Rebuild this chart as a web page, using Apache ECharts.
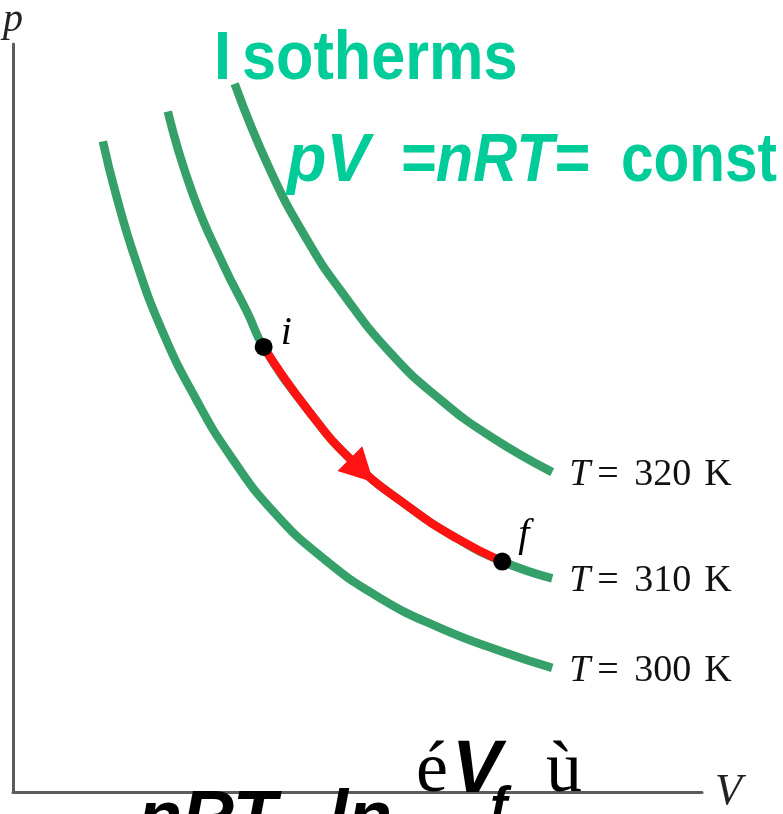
<!DOCTYPE html>
<html>
<head>
<meta charset="utf-8">
<script src="https://cdn.jsdelivr.net/npm/echarts@6/dist/echarts.min.js"></script>
<style>
  html, body { margin: 0; padding: 0; background: #ffffff; }
  #chart { width: 783px; height: 814px; }
</style>
</head>
<body>
<div id="chart"></div>
<script>
// Isotherms on a p–V diagram (arbitrary units)
const vol300 = [0.90, 1.03, 1.23, 1.50, 1.83, 2.18, 2.61, 3.11, 3.68, 4.28, 4.88, 5.40];
const p300   = [6.55, 6.02, 5.35, 4.63, 3.96, 3.38, 2.82, 2.35, 1.95, 1.65, 1.42, 1.25];

const vol310 = [1.55, 1.80, 2.11, 2.35, 2.51, 2.95, 3.41, 3.95, 4.45, 4.90, 5.40];
const p310   = [6.85, 6.02, 5.30, 4.82, 4.48, 3.85, 3.32, 2.88, 2.55, 2.32, 2.15];

const vol320 = [2.22, 2.58, 2.95, 3.28, 3.78, 4.28, 4.78, 5.40];
const p320   = [7.13, 6.25, 5.55, 5.05, 4.42, 3.95, 3.58, 3.22];

const isoTemps = [300, 310, 320];        // kelvin
const stateNames = ['i', 'f'];
const startIdx = 4;                      // state i on the 310 K isotherm
const endIdx = 9;                        // state f on the 310 K isotherm
const arrowIdx = 6;                      // direction marker along i -> f

const GREEN = '#36a06a';
const RED = '#ff1212';
const TEAL = '#00cc99';

// arrowhead already pointing down-right, along the expansion
const ARROW_HEAD = 'path://M0,22 L22,0 L32,32 Z';

const pairs = (xs, ys) => xs.map((x, k) => [x, ys[k]]);
const curves = { 300: pairs(vol300, p300), 310: pairs(vol310, p310), 320: pairs(vol320, p320) };
const process = curves[310].slice(startIdx, endIdx + 1);
const states = [curves[310][startIdx], curves[310][endIdx]];
const arrowPt = curves[310][arrowIdx];

const serifLbl = (extra) => Object.assign({ fontFamily: 'Liberation Serif', fontSize: 38, color: '#111' }, extra);

function isotherm(T) {
  return {
    type: 'line',
    name: 'T' + T,
    data: curves[T],
    smooth: 0.5,
    showSymbol: false,
    silent: true,
    z: 2,
    lineStyle: { color: GREEN, width: 8.5, cap: 'butt' },
    endLabel: {
      show: true,
      distance: 17,
      offset: [0, 3],
      formatter: '{t|T}{e|=}{n|' + T + '}{k|K}',
      rich: {
        t: serifLbl({ fontStyle: 'italic', width: 28 }),
        e: serifLbl({ width: 37 }),
        n: serifLbl({ width: 70 }),
        k: serifLbl({})
      }
    }
  };
}

// plain text placed by its alphabetic baseline
function txt(str, x, baseline, size, font, fill, extra) {
  return Object.assign({
    type: 'text',
    x: x,
    y: baseline - 0.34 * size,
    z: 100,
    style: {
      text: str,
      font: font.replace('SZ', size + 'px'),
      fill: fill,
      textVerticalAlign: 'middle',
      verticalAlign: 'middle',
      textAlign: 'left',
      align: 'left'
    }
  }, extra || {});
}

const SANS_B = 'bold SZ "Liberation Sans"';
const SANS_BI = 'italic bold SZ "Liberation Sans"';
const SERIF = 'SZ "Liberation Serif"';

const chart = echarts.init(document.getElementById('chart'), null, { renderer: 'canvas' });

chart.setOption({
  backgroundColor: '#ffffff',
  animation: false,
  grid: { left: 12, top: 42, width: 690, height: 753 },
  xAxis: {
    type: 'value', min: 0, max: 6.9,
    name: 'V', nameLocation: 'end', nameGap: 13,
    nameTextStyle: { fontFamily: 'Liberation Serif', fontStyle: 'italic', fontSize: 44, color: '#222', verticalAlign: 'middle' },
    axisLine: { show: true, lineStyle: { color: '#5c5c5c', width: 3 } },
    axisTick: { show: false }, axisLabel: { show: false }, splitLine: { show: false }
  },
  yAxis: {
    type: 'value', min: 0, max: 7.53,
    name: 'p', nameLocation: 'end', nameGap: 4,
    nameTextStyle: { fontFamily: 'Liberation Serif', fontStyle: 'italic', fontSize: 40, color: '#222', align: 'center' },
    axisLine: { show: true, lineStyle: { color: '#5c5c5c', width: 3 } },
    axisTick: { show: false }, axisLabel: { show: false }, splitLine: { show: false }
  },
  series: [
    isotherm(300),
    isotherm(310),
    isotherm(320),
    {
      type: 'line',
      name: 'process',
      data: process,
      smooth: 0.5,
      showSymbol: false,
      silent: true,
      z: 3,
      lineStyle: { color: RED, width: 8.5, cap: 'butt' }
    },
    {
      type: 'scatter',
      name: 'arrow',
      data: [arrowPt],
      symbol: ARROW_HEAD,
      symbolSize: 36,
      symbolKeepAspect: true,
      symbolOffset: [2, 2],
      silent: true,
      z: 4,
      itemStyle: { color: RED, opacity: 1 }
    },
    {
      type: 'scatter',
      name: 'states',
      data: states.map((d, k) => ({
        value: d,
        name: stateNames[k],
        label: { position: k === 0 ? [26, -4] : [25, -17] }
      })),
      symbol: 'circle',
      symbolSize: 18,
      silent: true,
      z: 5,
      itemStyle: { color: '#000', opacity: 1 },
      label: {
        show: true,
        formatter: (pr) => pr.name,
        fontFamily: 'Liberation Serif',
        fontStyle: 'italic',
        fontSize: 40,
        color: '#000',
        align: 'left',
        verticalAlign: 'middle'
      }
    }
  ],
  graphic: [
    txt('I', 214, 83, 68, SANS_B, TEAL, { scaleX: 0.9 }),
    txt('sotherms', 242, 83, 68, SANS_B, TEAL, { scaleX: 0.9 }),
    txt('pV', 287, 185, 68, SANS_BI, TEAL, { scaleX: 0.95 }),
    txt('=nRT=', 400, 185, 68, SANS_BI, TEAL, { scaleX: 0.9 }),
    txt('const', 621, 185, 68, SANS_B, TEAL, { scaleX: 0.86 }),
    txt('nRT', 138, 846, 72, SANS_BI, '#000'),
    txt('ln', 328, 846, 72, SANS_BI, '#000'),
    txt('é', 416, 797, 72, SERIF, '#000'),
    txt('V', 452, 797, 74, SANS_BI, '#000'),
    txt('f', 490, 826, 52, SANS_BI, '#000'),
    txt('ù', 546, 797, 72, SERIF, '#000')
  ]
});
</script>
</body>
</html>
